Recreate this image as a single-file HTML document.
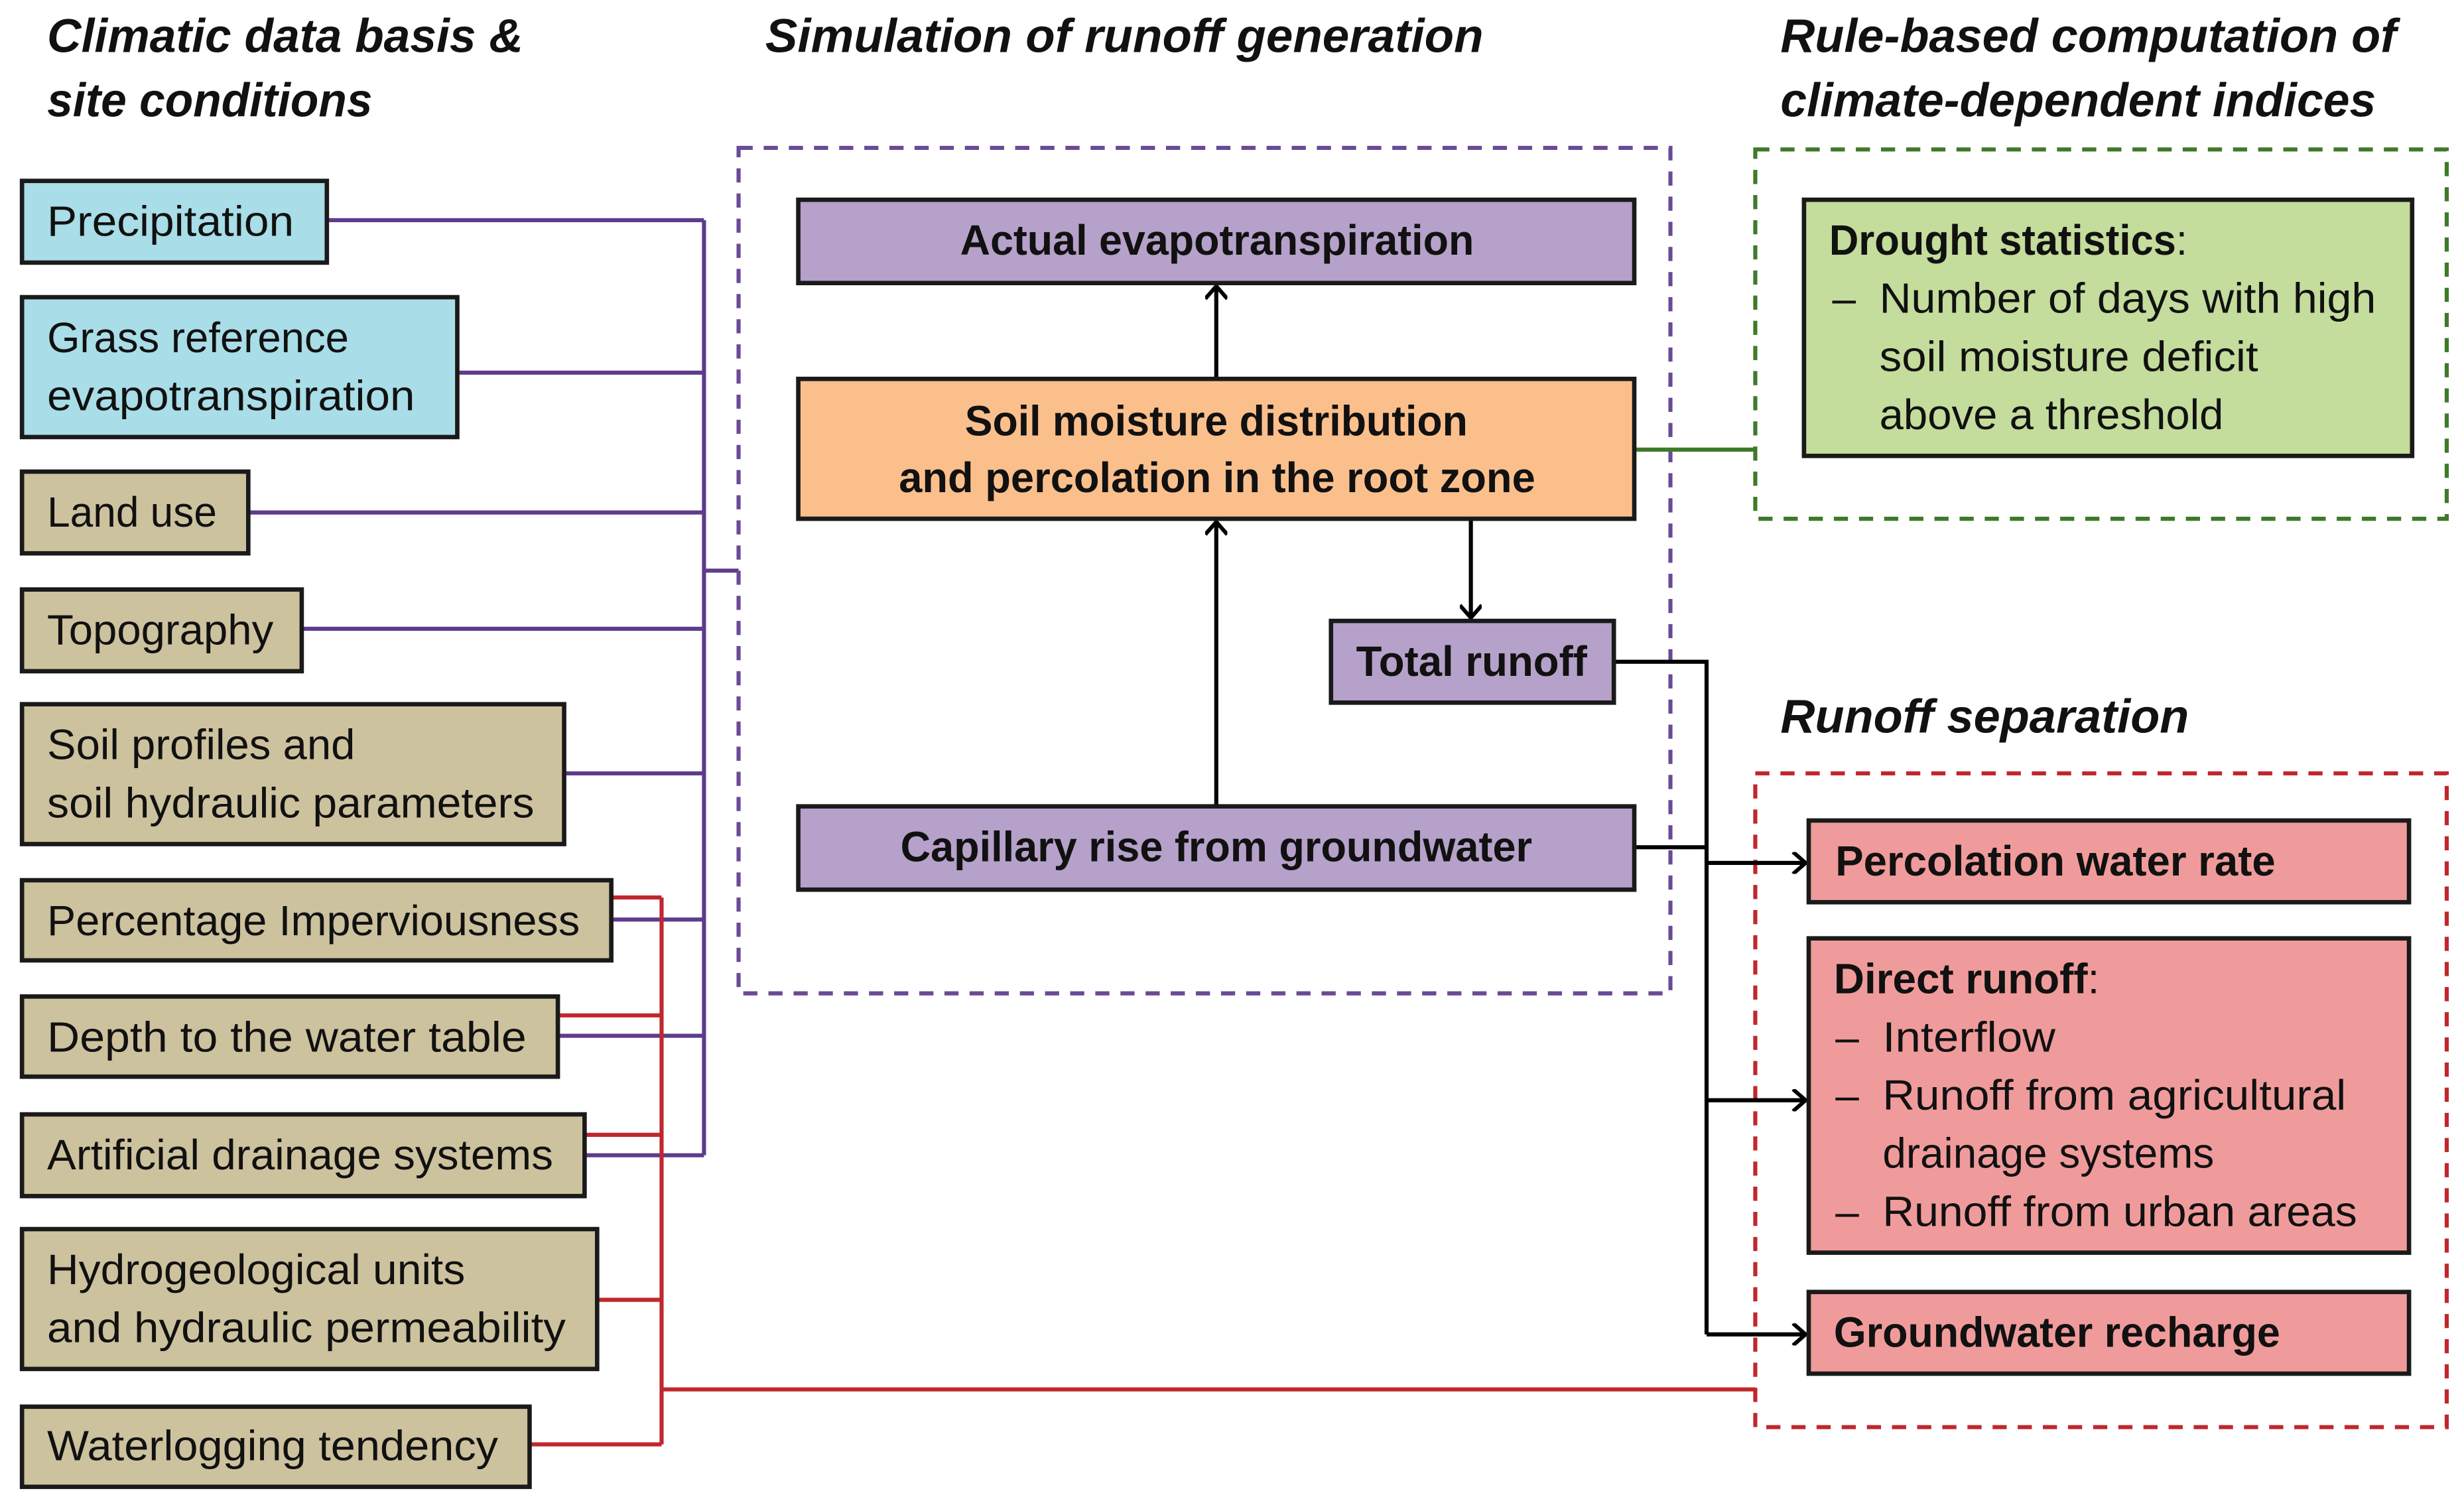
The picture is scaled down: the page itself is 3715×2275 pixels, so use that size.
<!DOCTYPE html>
<html><head><meta charset="utf-8"><style>
html,body{margin:0;padding:0;background:#fff}
svg{display:block}
text{font-family:"Liberation Sans",sans-serif;font-size:27px;fill:#111}
.t{font-style:italic;font-weight:bold;font-size:30px}
.b{font-weight:bold}
.bx{stroke:#1a1a1a;stroke-width:2.8}
.c{fill:#a9dde7}.k{fill:#cdc29e}.p{fill:#b5a1c9}.o{fill:#fbbf8c}.g{fill:#c4dc9c}.r{fill:#f09b9b}
</style></head><body>
<svg width="3715" height="2275" viewBox="0 0 1568 960" xmlns="http://www.w3.org/2000/svg">
<defs><marker id="a" markerWidth="12" markerHeight="14" refX="10" refY="7" orient="auto" markerUnits="userSpaceOnUse"><path d="M2,0 L10,7 L2,14" fill="none" stroke="#000" stroke-width="2.5"/></marker></defs>
<g lengthAdjust="spacingAndGlyphs">
<text class="t" x="30" y="33" textLength="303" lengthAdjust="spacingAndGlyphs">Climatic data basis &amp;</text>
<text class="t" x="30" y="74" textLength="207" lengthAdjust="spacingAndGlyphs">site conditions</text>
<text class="t" x="487" y="33" textLength="457" lengthAdjust="spacingAndGlyphs">Simulation of runoff generation</text>
<text class="t" x="1133" y="33" textLength="392" lengthAdjust="spacingAndGlyphs">Rule-based computation of</text>
<text class="t" x="1133" y="74" textLength="379" lengthAdjust="spacingAndGlyphs">climate-dependent indices</text>
<text class="t" x="1133" y="466" textLength="260" lengthAdjust="spacingAndGlyphs">Runoff separation</text>
</g>

<g stroke="#5e3c8c" stroke-width="2.6" fill="none">
<path d="M208,140H448M291,237H448M158,326H448M192,400H448M359,492H448M389,585H448M355,659H448M372,735H448M448,140V735M448,363H470"/>
</g>
<g stroke="#c0272d" stroke-width="2.6" fill="none">
<path d="M389,571H421M355,646H421M372,722H421M380,827H421M337,919H421M421,571V919M421,884H1117"/>
</g>
<rect x="470" y="94" width="593" height="538" fill="none" stroke="#6a4a96" stroke-width="2.6" stroke-dasharray="9,7"/>
<rect x="1117" y="95" width="440" height="235" fill="none" stroke="#3f7a2a" stroke-width="2.6" stroke-dasharray="9,7"/>
<rect x="1117" y="492" width="440" height="416" fill="none" stroke="#c0272d" stroke-width="2.6" stroke-dasharray="9,7"/>
<path d="M1040,286H1117" stroke="#3f7a2a" stroke-width="2.6"/>

<g stroke="#000" stroke-width="2.6" fill="none">
<path d="M774,241V182" marker-end="url(#a)"/>
<path d="M774,512V332" marker-end="url(#a)"/>
<path d="M936,330V393" marker-end="url(#a)"/>
<path d="M1027,421H1086V849"/>
<path d="M1040,539H1086"/>
<path d="M1086,549H1149" marker-end="url(#a)"/>
<path d="M1086,700H1149" marker-end="url(#a)"/>
<path d="M1086,849H1149" marker-end="url(#a)"/>
</g>

<rect class="bx c" x="14" y="115" width="194" height="52"/><text x="30" y="150" textLength="157" lengthAdjust="spacingAndGlyphs">Precipitation</text>
<rect class="bx c" x="14" y="189" width="277" height="89"/><text x="30" y="224" textLength="192" lengthAdjust="spacingAndGlyphs">Grass reference</text><text x="30" y="261" textLength="234" lengthAdjust="spacingAndGlyphs">evapotranspiration</text>
<rect class="bx k" x="14" y="300" width="144" height="52"/><text x="30" y="335" textLength="108" lengthAdjust="spacingAndGlyphs">Land use</text>
<rect class="bx k" x="14" y="375" width="178" height="52"/><text x="30" y="410" textLength="144" lengthAdjust="spacingAndGlyphs">Topography</text>
<rect class="bx k" x="14" y="448" width="345" height="89"/><text x="30" y="483" textLength="196" lengthAdjust="spacingAndGlyphs">Soil profiles and</text><text x="30" y="520" textLength="310" lengthAdjust="spacingAndGlyphs">soil hydraulic parameters</text>
<rect class="bx k" x="14" y="560" width="375" height="51"/><text x="30" y="595" textLength="339" lengthAdjust="spacingAndGlyphs">Percentage Imperviousness</text>
<rect class="bx k" x="14" y="634" width="341" height="51"/><text x="30" y="669" textLength="305" lengthAdjust="spacingAndGlyphs">Depth to the water table</text>
<rect class="bx k" x="14" y="709" width="358" height="52"/><text x="30" y="744" textLength="322" lengthAdjust="spacingAndGlyphs">Artificial drainage systems</text>
<rect class="bx k" x="14" y="782" width="366" height="89"/><text x="30" y="817" textLength="266" lengthAdjust="spacingAndGlyphs">Hydrogeological units</text><text x="30" y="854" textLength="330" lengthAdjust="spacingAndGlyphs">and hydraulic permeability</text>
<rect class="bx k" x="14" y="895" width="323" height="51"/><text x="30" y="929" textLength="287" lengthAdjust="spacingAndGlyphs">Waterlogging tendency</text>

<rect class="bx p" x="508" y="127" width="532" height="53"/><text class="b" x="611" y="162" textLength="327" lengthAdjust="spacingAndGlyphs">Actual evapotranspiration</text>
<rect class="bx o" x="508" y="241" width="532" height="89"/><text class="b" x="614" y="277" textLength="320" lengthAdjust="spacingAndGlyphs">Soil moisture distribution</text><text class="b" x="572" y="313" textLength="405" lengthAdjust="spacingAndGlyphs">and percolation in the root zone</text>
<rect class="bx p" x="847" y="395" width="180" height="52"/><text class="b" x="863" y="430" textLength="147" lengthAdjust="spacingAndGlyphs">Total runoff</text>
<rect class="bx p" x="508" y="513" width="532" height="53"/><text class="b" x="573" y="548" textLength="402" lengthAdjust="spacingAndGlyphs">Capillary rise from groundwater</text>

<rect class="bx g" x="1148" y="127" width="387" height="163"/>
<text x="1164" y="162" textLength="228" lengthAdjust="spacingAndGlyphs"><tspan class="b">Drought statistics</tspan>:</text>
<text x="1166" y="199">–</text><text x="1196" y="199" textLength="316" lengthAdjust="spacingAndGlyphs">Number of days with high</text>
<text x="1196" y="236" textLength="241" lengthAdjust="spacingAndGlyphs">soil moisture deficit</text>
<text x="1196" y="273" textLength="219" lengthAdjust="spacingAndGlyphs">above a threshold</text>

<rect class="bx r" x="1151" y="522" width="382" height="52"/><text class="b" x="1168" y="557" textLength="280" lengthAdjust="spacingAndGlyphs">Percolation water rate</text>
<rect class="bx r" x="1151" y="597" width="382" height="200"/>
<text x="1167" y="632" textLength="169" lengthAdjust="spacingAndGlyphs"><tspan class="b">Direct runoff</tspan>:</text>
<text x="1168" y="669">–</text><text x="1198" y="669" textLength="110" lengthAdjust="spacingAndGlyphs">Interflow</text>
<text x="1168" y="706">–</text><text x="1198" y="706" textLength="295" lengthAdjust="spacingAndGlyphs">Runoff from agricultural</text>
<text x="1198" y="743" textLength="211" lengthAdjust="spacingAndGlyphs">drainage systems</text>
<text x="1168" y="780">–</text><text x="1198" y="780" textLength="302" lengthAdjust="spacingAndGlyphs">Runoff from urban areas</text>
<rect class="bx r" x="1151" y="822" width="382" height="52"/><text class="b" x="1167" y="857" textLength="284" lengthAdjust="spacingAndGlyphs">Groundwater recharge</text>
</svg>
</body></html>
